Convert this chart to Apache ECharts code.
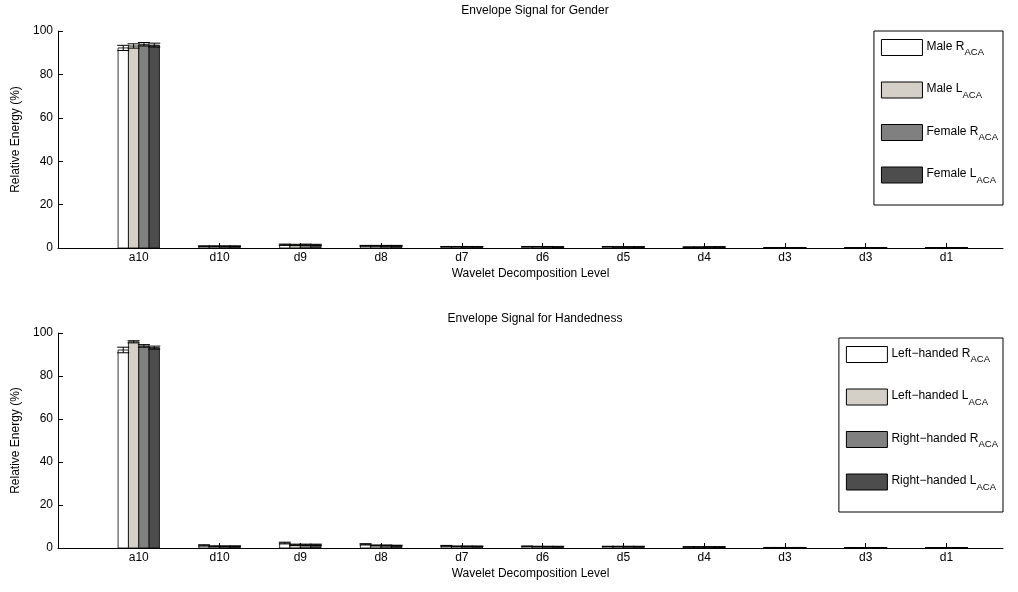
<!DOCTYPE html>
<html><head><meta charset="utf-8">
<script src="https://cdn.jsdelivr.net/npm/echarts@6/dist/echarts.min.js"></script>
<style>html,body{margin:0;padding:0;background:#fff}#c{width:1018px;height:592px}</style>
</head><body><div id="c"></div>
<script>
var categories = ['a10','d10','d9','d8','d7','d6','d5','d4','d3','d3','d1'];
var yTicks = [0,20,40,60,80,100];

var genderNames = ['Male R_ACA','Male L_ACA','Female R_ACA','Female L_ACA'];
var maleR    = [92.2, 0.8, 1.5, 1.0, 0.6, 0.6, 0.6, 0.4, 0.15, 0.1, 0.1];
var maleL    = [93.1, 0.8, 1.4, 1.0, 0.6, 0.6, 0.5, 0.4, 0.15, 0.1, 0.1];
var femaleR  = [93.9, 0.8, 1.5, 1.0, 0.6, 0.6, 0.5, 0.5, 0.15, 0.1, 0.1];
var femaleL  = [93.5, 0.8, 1.4, 1.0, 0.6, 0.5, 0.5, 0.5, 0.15, 0.1, 0.1];
var maleRErr   = [1.2, 0.2, 0.3, 0.2, 0.1, 0.1, 0.1, 0.1, 0.05, 0.05, 0.05];
var maleLErr   = [1.0, 0.2, 0.3, 0.2, 0.1, 0.1, 0.1, 0.1, 0.05, 0.05, 0.05];
var femaleRErr = [0.8, 0.2, 0.3, 0.2, 0.1, 0.1, 0.1, 0.1, 0.05, 0.05, 0.05];
var femaleLErr = [0.9, 0.2, 0.3, 0.2, 0.1, 0.1, 0.1, 0.1, 0.05, 0.05, 0.05];

var handNames = ['Left\u2212handed R_ACA','Left\u2212handed L_ACA','Right\u2212handed R_ACA','Right\u2212handed L_ACA'];
var leftR   = [92.1, 1.2, 2.3, 1.7, 1.0, 0.8, 0.7, 0.5, 0.2, 0.1, 0.1];
var leftL   = [95.9, 0.8, 1.5, 1.2, 0.8, 0.7, 0.7, 0.5, 0.2, 0.1, 0.1];
var rightR  = [94.0, 0.8, 1.5, 1.2, 0.8, 0.7, 0.7, 0.5, 0.2, 0.1, 0.1];
var rightL  = [93.2, 0.8, 1.5, 1.1, 0.8, 0.7, 0.7, 0.5, 0.2, 0.1, 0.1];
var leftRErr  = [1.3, 0.3, 0.4, 0.3, 0.2, 0.1, 0.1, 0.1, 0.05, 0.05, 0.05];
var leftLErr  = [0.5, 0.2, 0.3, 0.2, 0.1, 0.1, 0.1, 0.1, 0.05, 0.05, 0.05];
var rightRErr = [0.6, 0.2, 0.3, 0.2, 0.1, 0.1, 0.1, 0.1, 0.05, 0.05, 0.05];
var rightLErr = [0.7, 0.2, 0.3, 0.2, 0.1, 0.1, 0.1, 0.1, 0.05, 0.05, 0.05];

var colors = ['#ffffff','#d4d0c8','#808080','#4d4d4d'];
var FONT = '"Liberation Sans", Arial, Helvetica, sans-serif';
var FS = 12;
var BAR_UNIT = 0.128;

function toData(vals, errs){
  return vals.map(function(v,i){ return [i, v, errs[i]]; });
}
function barRender(k){
  return function(params, api){
    var idx = api.value(0), v = api.value(1);
    var xc = idx + 1 + (k - 1.5) * BAR_UNIT;
    var p1 = api.coord([xc - BAR_UNIT/2, v]);
    var p0 = api.coord([xc + BAR_UNIT/2, 0]);
    return {type:'rect', shape:{x:p1[0], y:p1[1], width:p0[0]-p1[0], height:p0[1]-p1[1]},
      style:{fill:colors[k], stroke:'#000', lineWidth:0.8}};
  };
}
function errRender(k){
  return function(params, api){
    var idx = api.value(0), v = api.value(1), e = api.value(2);
    var xc = idx + 1 + (k - 1.5) * BAR_UNIT;
    var top = api.coord([xc, v + e]);
    var bot = api.coord([xc, v - e]);
    var hw = 6;
    var st = {stroke:'#000', lineWidth:1};
    return {type:'group', children:[
      {type:'line', shape:{x1:top[0], y1:top[1], x2:bot[0], y2:bot[1]}, style:st},
      {type:'line', shape:{x1:top[0]-hw, y1:top[1], x2:top[0]+hw, y2:top[1]}, style:st},
      {type:'line', shape:{x1:bot[0]-hw, y1:bot[1], x2:bot[0]+hw, y2:bot[1]}, style:st}
    ]};
  };
}

function makeSeries(names, vals, errs, gi){
  var s = [];
  for (var k=0;k<4;k++){
    s.push({type:'custom', name:names[k], xAxisIndex:gi, yAxisIndex:gi, z:2,
      itemStyle:{color:colors[k], borderColor:'#000', borderWidth:1},
      renderItem:barRender(k), data:toData(vals[k], errs[k]), clip:false});
  }
  for (var k2=0;k2<4;k2++){
    s.push({type:'custom', name:names[k2]+'_err', xAxisIndex:gi, yAxisIndex:gi, z:3,
      renderItem:errRender(k2), data:toData(vals[k2], errs[k2]), silent:true});
  }
  return s;
}

function xAxis(gi){
  return {type:'value', gridIndex:gi, min:0, max:11.7, interval:1,
    name:'Wavelet Decomposition Level', nameLocation:'middle', nameGap:20,
    nameTextStyle:{color:'#000', fontSize:FS, fontFamily:FONT},
    axisLine:{show:true, lineStyle:{color:'#000', width:1}},
    axisTick:{show:true, inside:true, length:5, lineStyle:{color:'#000'}},
    splitLine:{show:false},
    axisLabel:{color:'#000', fontSize:FS, fontFamily:FONT, margin:4, showMaxLabel:false,
      formatter:function(v){ var i=Math.round(v)-1; return (i>=0 && i<categories.length && Math.abs(v-Math.round(v))<1e-6) ? categories[i] : ''; }}};
}
function yAxis(gi){
  return {type:'value', gridIndex:gi, min:yTicks[0], max:yTicks[yTicks.length-1], interval:20,
    name:'Relative Energy (%)', nameLocation:'middle', nameGap:33, nameRotate:90,
    nameTextStyle:{color:'#000', fontSize:FS, fontFamily:FONT},
    axisLine:{show:true, lineStyle:{color:'#000', width:1}},
    axisTick:{show:true, inside:true, length:5, lineStyle:{color:'#000'}},
    splitLine:{show:false},
    axisLabel:{color:'#000', fontSize:FS, fontFamily:FONT, margin:5}};
}
function legend(names, right, top, padding){
  return {orient:'vertical', right:right, top:top, itemWidth:41, itemHeight:16, itemGap:24,
    padding:padding, borderColor:'#000', borderWidth:1, backgroundColor:'#fff',
    selectedMode:false,
    data:names.map(function(n,k){ return {name:n, icon:'rect', itemStyle:{color:colors[k], borderColor:'#000', borderWidth:1}}; }),
    formatter:function(n){ var p=n.split('_'); return '{m|'+p[0]+'}{s|'+p[1]+'}'; },
    textStyle:{color:'#000', fontFamily:FONT, padding:[0,0,0,-1],
      rich:{m:{fontSize:FS, fontFamily:FONT, color:'#000', verticalAlign:'top', lineHeight:14},
            s:{fontSize:9.5, fontFamily:FONT, color:'#000', verticalAlign:'top', lineHeight:10, padding:[7,0,0,0]}}}};
}

var option = {
  animation:false,
  backgroundColor:'#fff',
  title:[
    {text:'Envelope Signal for Gender', left:530, top:0, textAlign:'center', textStyle:{fontSize:FS, fontWeight:'normal', color:'#000', fontFamily:FONT}},
    {text:'Envelope Signal for Handedness', left:530, top:308, textAlign:'center', textStyle:{fontSize:FS, fontWeight:'normal', color:'#000', fontFamily:FONT}}
  ],
  grid:[
    {left:58, right:15, top:31, bottom:344},
    {left:58, right:15, top:333, bottom:44}
  ],
  xAxis:[xAxis(0), xAxis(1)],
  yAxis:[yAxis(0), yAxis(1)],
  legend:[
    legend(genderNames, 15, 31, [8,5,20,7]),
    legend(handNames, 15, 338, [8,5,20,7])
  ],
  series: makeSeries(genderNames, [maleR, maleL, femaleR, femaleL], [maleRErr, maleLErr, femaleRErr, femaleLErr], 0)
    .concat(makeSeries(handNames, [leftR, leftL, rightR, rightL], [leftRErr, leftLErr, rightRErr, rightLErr], 1))
};
var chart = echarts.init(document.getElementById('c'), null, {renderer:'canvas'});
chart.setOption(option);
</script></body></html>
